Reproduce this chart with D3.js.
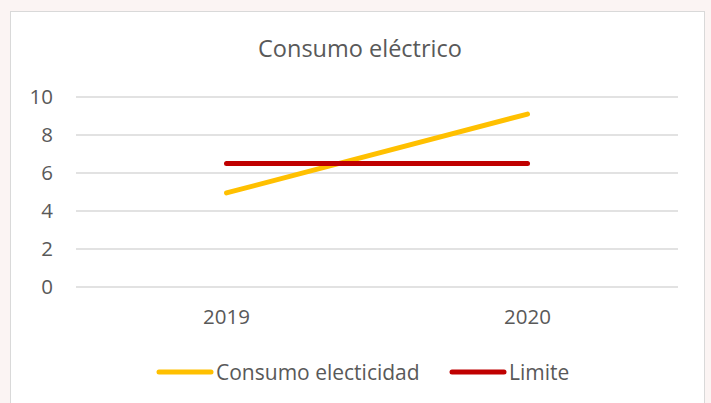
<!DOCTYPE html>
<html><head><meta charset="utf-8">
<script src="https://cdn.jsdelivr.net/npm/d3@7"></script>
<style>
html,body{margin:0;padding:0;background:#fbf4f3;}
svg{display:block;font-family:"Open Sans",sans-serif;}
</style></head>
<body>
<svg id="c" width="711" height="403"></svg>
<script>
const categories = ["2019", "2020"];
const consumo = [4.95, 9.1];
const limite = [6.5, 6.5];
const yTicks = [0, 2, 4, 6, 8, 10];
const seriesNames = ["Consumo electicidad", "Limite"];
const seriesColors = ["#FFC000", "#C00000"];
const title = "Consumo eléctrico";

const svg = d3.select("#c");
svg.append("rect").attr("x",10.5).attr("y",11.5).attr("width",694).attr("height",400)
  .attr("fill","#fff").attr("stroke","#d9d9d9");

const x = d3.scaleBand().domain(categories).range([76, 678]);
const y = d3.scaleLinear().domain([0, 10]).range([287, 97]);

svg.append("text").attr("x",360).attr("y",57).attr("text-anchor","middle")
  .attr("font-size",23.5).attr("fill","#595959").text(title);

const grid = svg.append("g");
grid.selectAll("line").data(yTicks).join("line")
  .attr("x1",76).attr("x2",678).attr("y1",d=>y(d)).attr("y2",d=>y(d))
  .attr("stroke","#d9d9d9").attr("stroke-width",1.3);

const yAxis = svg.append("g").attr("transform","translate(53,0)")
  .call(d3.axisLeft(y).tickValues(yTicks).tickSize(0).tickPadding(0));
yAxis.select(".domain").remove();
yAxis.selectAll("text").attr("font-size",20.5).attr("fill","#595959").attr("font-family","'Open Sans',sans-serif");

const xAxis = svg.append("g").attr("transform","translate(0,300)")
  .call(d3.axisBottom(x).tickSize(0).tickPadding(9));
xAxis.select(".domain").remove();
xAxis.selectAll("text").attr("font-size",20.5).attr("fill","#595959").attr("font-family","'Open Sans',sans-serif");

const line = d3.line().x((d,i)=>x(categories[i])+x.bandwidth()/2).y(d=>y(d));
[consumo, limite].forEach((s,k)=>{
  svg.append("path").datum(s).attr("d",line).attr("fill","none")
    .attr("stroke",seriesColors[k]).attr("stroke-width",5).attr("stroke-linecap","round");
});

const legendX = [157, 450];
seriesNames.forEach((n,k)=>{
  const g = svg.append("g").attr("transform",`translate(${legendX[k]},372)`);
  g.append("line").attr("x1",2).attr("x2",54).attr("y1",0).attr("y2",0)
    .attr("stroke",seriesColors[k]).attr("stroke-width",5).attr("stroke-linecap","round");
  g.append("text").attr("x",59).attr("y",7.5).attr("font-size",21).attr("fill","#595959").text(n);
});
</script>
</body></html>
